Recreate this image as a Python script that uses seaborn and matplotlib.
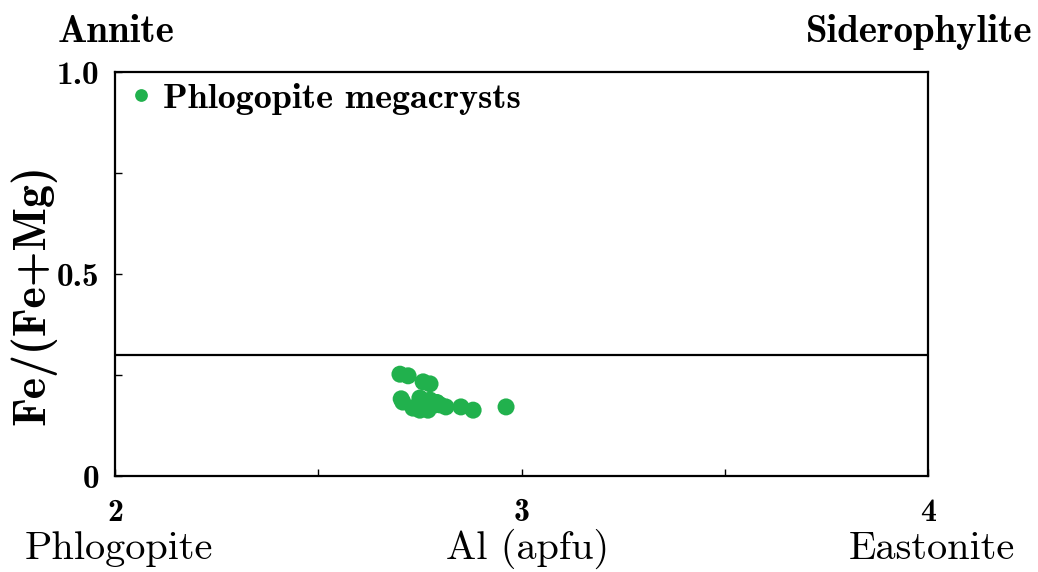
import matplotlib
matplotlib.use("Agg")
import matplotlib.pyplot as plt
import seaborn as sns
import pandas as pd

# Data
al_apfu = [2.701, 2.721, 2.758, 2.775, 2.704, 2.708, 2.733, 2.750, 2.770, 2.787,
           2.775, 2.800, 2.814, 2.851, 2.881, 2.962, 2.750, 2.763, 2.745, 2.792]
fe_ratio = [0.252, 0.248, 0.233, 0.228, 0.191, 0.183, 0.168, 0.163, 0.163, 0.176,
            0.188, 0.176, 0.171, 0.171, 0.163, 0.171, 0.193, 0.178, 0.175, 0.182]
series_name = "Phlogopite megacrysts"
divider_y = 0.30
x_ticks = [2, 3, 4]
x_ticklabels = ["2", "3", "4"]
y_ticks = [0, 0.5, 1.0]
y_ticklabels = ["0", "0.5", "1.0"]

df = pd.DataFrame({"Al": al_apfu, "FeRatio": fe_ratio, "Group": series_name})

sns.set_theme(style="white")
plt.rcParams["font.family"] = ["cmb10", "DejaVu Serif"]
plt.rcParams["axes.unicode_minus"] = False
plt.rcParams["text.color"] = "black"
plt.rcParams["xtick.color"] = "black"
plt.rcParams["ytick.color"] = "black"

W, H = 1038, 572
fig = plt.figure(figsize=(W / 100, H / 100), dpi=100)
ax = fig.add_axes([115 / W, 1 - 476 / H, (928 - 115) / W, (476 - 72) / H])

green = "#21b14d"
sns.scatterplot(data=df, x="Al", y="FeRatio", hue="Group", palette=[green],
                s=150, edgecolor="none", linewidth=0, ax=ax, legend=True)
ax.axhline(divider_y, color="black", lw=1.6, zorder=1)

ax.set_xlim(2, 4)
ax.set_ylim(0, 1.0)
ax.set_xticks(x_ticks)
ax.set_xticklabels(x_ticklabels, fontfamily="cmb10", fontsize=23)
ax.set_yticks(y_ticks)
ax.set_yticklabels(y_ticklabels, fontfamily="cmb10", fontsize=24)
ax.set_xticks([2.5, 3.5], minor=True)
ax.set_yticks([0.25, 0.75], minor=True)
ax.tick_params(axis="both", which="both", direction="in", length=5, width=1,
               color="black", bottom=True, left=True)
ax.tick_params(axis="x", which="major", pad=16)
ax.tick_params(axis="y", which="major", pad=11)
ax.set_xlabel("")
ax.set_ylabel("")
for sp in ax.spines.values():
    sp.set_linewidth(1.6)
    sp.set_color("black")

leg = ax.legend(loc="upper left", frameon=False, markerscale=0.75,
                handlelength=0.85, handletextpad=0.19, borderaxespad=0.2, borderpad=0.1,
                prop={"family": "cmb10", "size": 26})

fig.text(116 / W, 1 - 42 / H, "Annite", ha="center", va="baseline", fontsize=28, fontfamily="cmb10")
fig.text(1033 / W, 1 - 42 / H, "Siderophylite", ha="right", va="baseline", fontsize=28, fontfamily="cmb10")
fig.text(25 / W, 1 - 559 / H, "Phlogopite", ha="left", va="baseline", fontsize=29, fontfamily="cmr10")
fig.text(528 / W, 1 - 559 / H, "Al (apfu)", ha="center", va="baseline", fontsize=29, fontfamily="cmr10")
fig.text(1015 / W, 1 - 559 / H, "Eastonite", ha="right", va="baseline", fontsize=29, fontfamily="cmr10")
fig.text(33 / W, 1 - 295 / H, "Fe/(Fe+Mg)", ha="center", va="center", rotation=90,
         fontsize=33, fontfamily="cmb10")

fig.savefig("out.png", dpi=100)
